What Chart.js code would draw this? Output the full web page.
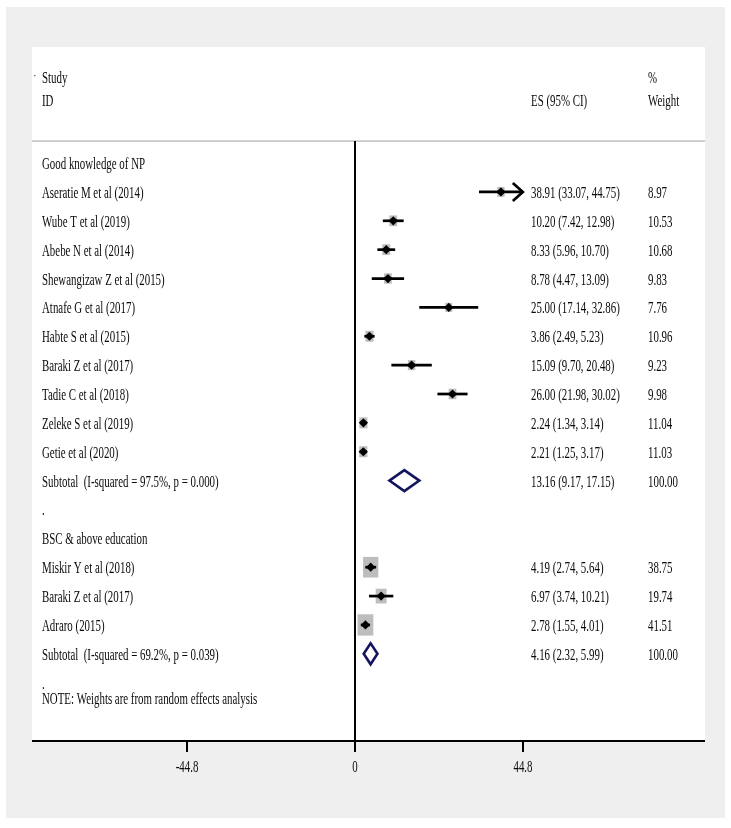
<!DOCTYPE html>
<html>
<head>
<meta charset="utf-8">
<script src="https://cdn.jsdelivr.net/npm/chart.js@4"></script>
<style>
  body { margin: 0; background: #fff; }
  #wrap { width: 731px; height: 828px; }
</style>
</head>
<body>
<div id="wrap"><canvas id="forest" width="731" height="828"></canvas></div>
<script>
// Datos del forest plot
const groupNames = ['Good knowledge of NP', 'BSC & above education'];
const studyNames = [
  'Aseratie M et al (2014)', 'Wube T et al (2019)', 'Abebe N et al (2014)',
  'Shewangizaw Z et al (2015)', 'Atnafe G et al (2017)', 'Habte S et al (2015)',
  'Baraki Z et al (2017)', 'Tadie C et al (2018)', 'Zeleke S et al (2019)',
  'Getie et al (2020)',
  'Miskir Y et al (2018)', 'Baraki Z et al (2017)', 'Adraro (2015)'
];
const studyGroup = [0, 0, 0, 0, 0, 0, 0, 0, 0, 0, 1, 1, 1];
const esValues = [38.91, 10.20, 8.33, 8.78, 25.00, 3.86, 15.09, 26.00, 2.24, 2.21, 4.19, 6.97, 2.78];
const ciLower = [33.07, 7.42, 5.96, 4.47, 17.14, 2.49, 9.70, 21.98, 1.34, 1.25, 2.74, 3.74, 1.55];
const ciUpper = [44.75, 12.98, 10.70, 13.09, 32.86, 5.23, 20.48, 30.02, 3.14, 3.17, 5.64, 10.21, 4.01];
const weights = [8.97, 10.53, 10.68, 9.83, 7.76, 10.96, 9.23, 9.98, 11.04, 11.03, 38.75, 19.74, 41.51];
const ciArrow = [true, false, false, false, false, false, false, false, false, false, false, false, false];
const subtotalLabels = ['Subtotal  (I-squared = 97.5%, p = 0.000)', 'Subtotal  (I-squared = 69.2%, p = 0.039)'];
const subtotalES = [13.16, 4.16];
const subtotalLower = [9.17, 2.32];
const subtotalUpper = [17.15, 5.99];
const subtotalWeight = [100.00, 100.00];
const xTicks = [-44.8, 0, 44.8];
const noteText = 'NOTE: Weights are from random effects analysis';

const fmt = v => v.toFixed(2);

// filas: cabecera de grupo, estudios, subtotal, '.'
const rows = [];
let r = 0;
groupNames.forEach((g, gi) => {
  rows.push({ kind: 'group', y: r++, label: g });
  studyNames.forEach((s, i) => {
    if (studyGroup[i] !== gi) return;
    rows.push({ kind: 'study', y: r++, i, label: s });
  });
  rows.push({ kind: 'sub', y: r++, gi, label: subtotalLabels[gi] });
  rows.push({ kind: 'dot', y: r++, label: '.' });
});
const studyRow = {};
rows.forEach(rw => { if (rw.kind === 'study') studyRow[rw.i] = rw.y; });

const ciDatasets = studyNames.map((s, i) => ({
  type: 'line',
  data: [{ x: ciLower[i], y: studyRow[i] }, { x: ciUpper[i], y: studyRow[i] }],
  borderColor: '#000',
  borderWidth: 2.7,
  pointRadius: 0,
  order: 2
}));

const pointDataset = {
  type: 'scatter',
  data: studyNames.map((s, i) => ({ x: esValues[i], y: studyRow[i] })),
  pointStyle: 'rectRot',
  pointRadius: 4.6,
  backgroundColor: '#000',
  borderColor: '#000',
  borderWidth: 0,
  order: 1
};

const FONT = '16px "Liberation Serif", "Times New Roman", serif';
const SX = 0.68;

function drawText(ctx, str, x, y, align) {
  ctx.save();
  ctx.translate(x, y);
  ctx.scale(SX, 1);
  ctx.font = FONT;
  ctx.fillStyle = '#0a0a0a';
  ctx.textAlign = align || 'left';
  ctx.textBaseline = 'alphabetic';
  ctx.fillText(str, 0, 0);
  ctx.restore();
}

const forestPlugin = {
  id: 'forest',
  beforeDraw(chart) {
    const ctx = chart.ctx, a = chart.chartArea;
    ctx.save();
    ctx.fillStyle = '#efefef';
    ctx.fillRect(6, 7, 719, 811);
    ctx.fillStyle = '#fff';
    ctx.fillRect(a.left, a.top, a.right - a.left, a.bottom - a.top);
    ctx.restore();
  },
  beforeDatasetsDraw(chart) {
    const ctx = chart.ctx, xs = chart.scales.x, ys = chart.scales.y, a = chart.chartArea;
    ctx.save();
    // linea separadora de cabecera
    const ySep = ys.getPixelForValue(-0.76);
    ctx.strokeStyle = '#c8c8c8';
    ctx.lineWidth = 1.6;
    ctx.beginPath(); ctx.moveTo(a.left, ySep); ctx.lineTo(a.right, ySep); ctx.stroke();
    // linea del cero
    const x0 = xs.getPixelForValue(0);
    ctx.strokeStyle = '#000';
    ctx.lineWidth = 2;
    ctx.beginPath(); ctx.moveTo(x0, ySep); ctx.lineTo(x0, a.bottom); ctx.stroke();
    // cajas de peso
    ctx.fillStyle = '#bdbdbd';
    studyNames.forEach((s, i) => {
      const h = 3.31 * Math.sqrt(weights[i]);
      const w = h * 0.74;
      const px = xs.getPixelForValue(esValues[i]);
      const py = ys.getPixelForValue(studyRow[i]);
      ctx.fillRect(px - w / 2, py - h / 2, w, h);
    });
    ctx.restore();
  },
  afterDatasetsDraw(chart) {
    const ctx = chart.ctx, xs = chart.scales.x, ys = chart.scales.y, a = chart.chartArea;
    ctx.save();
    // flechas
    ctx.strokeStyle = '#000';
    ctx.lineWidth = 2.7;
    studyNames.forEach((s, i) => {
      if (!ciArrow[i]) return;
      const px = xs.getPixelForValue(ciUpper[i]);
      const py = ys.getPixelForValue(studyRow[i]);
      ctx.beginPath();
      ctx.moveTo(px - 10, py - 9); ctx.lineTo(px, py); ctx.lineTo(px - 10, py + 9);
      ctx.stroke();
    });
    // diamantes de subtotal
    ctx.strokeStyle = '#14145f';
    ctx.lineWidth = 2.6;
    rows.forEach(rw => {
      if (rw.kind !== 'sub') return;
      const py = ys.getPixelForValue(rw.y);
      const l = xs.getPixelForValue(subtotalLower[rw.gi]);
      const c = xs.getPixelForValue(subtotalES[rw.gi]);
      const rr = xs.getPixelForValue(subtotalUpper[rw.gi]);
      ctx.beginPath();
      ctx.moveTo(l, py); ctx.lineTo(c, py - 10.5); ctx.lineTo(rr, py); ctx.lineTo(c, py + 10.5);
      ctx.closePath();
      ctx.stroke();
    });
    // eje x
    ctx.strokeStyle = '#000';
    ctx.lineWidth = 2;
    ctx.beginPath(); ctx.moveTo(a.left, a.bottom); ctx.lineTo(a.right, a.bottom); ctx.stroke();
    xTicks.forEach(t => {
      const px = xs.getPixelForValue(t);
      ctx.beginPath(); ctx.moveTo(px, a.bottom); ctx.lineTo(px, a.bottom + 11); ctx.stroke();
      drawText(ctx, String(t), px, a.bottom + 31, 'center');
    });
    ctx.restore();

    // textos
    const xLab = a.left + 10, xES = 531, xW = 648;
    const base = v => ys.getPixelForValue(v) + 6;
    ctx.save();
    ctx.font = '11px "Liberation Serif", serif';
    ctx.fillStyle = '#111';
    ctx.fillText('·', a.left + 1, base(-2.98) - 4);
    ctx.restore();
    drawText(ctx, 'Study', xLab, base(-2.98));
    drawText(ctx, 'ID', xLab, base(-2.18));
    drawText(ctx, '%', xW, base(-2.98));
    drawText(ctx, 'ES (95% CI)', xES, base(-2.18));
    drawText(ctx, 'Weight', xW, base(-2.18));
    rows.forEach(rw => {
      drawText(ctx, rw.label, xLab, base(rw.y));
      if (rw.kind === 'study') {
        const i = rw.i;
        drawText(ctx, fmt(esValues[i]) + ' (' + fmt(ciLower[i]) + ', ' + fmt(ciUpper[i]) + ')', xES, base(rw.y));
        drawText(ctx, fmt(weights[i]), xW, base(rw.y));
      } else if (rw.kind === 'sub') {
        const g = rw.gi;
        drawText(ctx, fmt(subtotalES[g]) + ' (' + fmt(subtotalLower[g]) + ', ' + fmt(subtotalUpper[g]) + ')', xES, base(rw.y));
        drawText(ctx, fmt(subtotalWeight[g]), xW, base(rw.y));
      }
    });
    drawText(ctx, noteText, xLab, base(r - 1 + 0.53));
  }
};

new Chart(document.getElementById('forest').getContext('2d'), {
  type: 'scatter',
  data: { datasets: [...ciDatasets, pointDataset] },
  options: {
    responsive: false,
    animation: false,
    layout: { padding: { left: 32, top: 47, right: 26, bottom: 87 } },
    plugins: { legend: { display: false }, tooltip: { enabled: false } },
    scales: {
      x: { type: 'linear', display: false, min: -86.13, max: 93.33 },
      y: { type: 'linear', display: false, reverse: true, min: -4.02, max: 20.02 }
    }
  },
  plugins: [forestPlugin]
});
</script>
</body>
</html>
